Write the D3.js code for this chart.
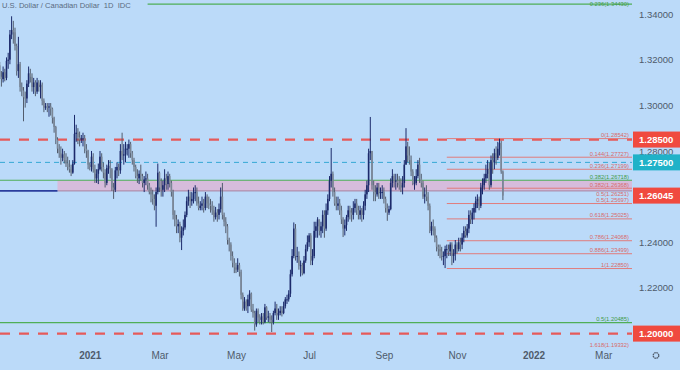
<!DOCTYPE html>
<html>
<head>
<meta charset="utf-8">
<script src="https://cdn.jsdelivr.net/npm/d3@7"></script>
<style>
  html, body { margin: 0; padding: 0; background: #bbdaf9; }
  svg { display: block; font-family: "Liberation Sans", Arial, sans-serif; }
</style>
</head>
<body>
<svg id="chart" width="680" height="370"></svg>
<script>
// USD/CAD daily candles, one bar per weekday from 19 Oct 2020
const startDate = "2020-10-19";
const firstOpen = 1.3185;

const closes = [
  1.3175,1.3125,1.3115,1.3145,1.3120, 1.3195,1.3200,1.3310,1.3330,1.3320,
  1.3260,1.3150,1.3180,1.3080,1.3065, 1.3035,1.3030,1.3095,1.3140,1.3125,
  1.3080,1.3100,1.3060,1.3100,1.3080, 1.3090,1.3020,1.2990,1.2995,1.2990,
  1.2995,1.2985,1.2945,1.2905,1.2850, 1.2810,1.2790,1.2770,1.2785,1.2760,
  1.2745,1.2730,1.2720,1.2705,1.2745, 1.2875,1.2880,1.2860,1.2850,1.2855,
  1.2855,1.2810,1.2800,1.2740,1.2730, 1.2775,1.2720,1.2680,1.2700,1.2720,
  1.2775,1.2730,1.2705,1.2660,1.2725, 1.2735,1.2720,1.2640,1.2630,1.2715,
  1.2730,1.2715,1.2800,1.2780,1.2785, 1.2810,1.2810,1.2830,1.2790,1.2760,
  1.2730,1.2690,1.2680,1.2700,1.2690, 1.2660,1.2675,1.2680,1.2650,1.2620,
  1.2610,1.2590,1.2560,1.2620,1.2705, 1.2640,1.2630,1.2650,1.2680,1.2655,
  1.2690,1.2660,1.2620,1.2520,1.2500, 1.2470,1.2480,1.2420,1.2450,1.2465,
  1.2520,1.2580,1.2600,1.2580,1.2590, 1.2615,1.2620,1.2570,1.2550,1.2560,
  1.2570,1.2550,1.2600,1.2570,1.2565, 1.2560,1.2540,1.2510,1.2530,1.2520,
  1.2545,1.2600,1.2520,1.2490,1.2470, 1.2410,1.2390,1.2340,1.2310,1.2290,
  1.2280,1.2300,1.2270,1.2170,1.2110, 1.2140,1.2120,1.2150,1.2175,1.2105,
  1.2090,1.2040,1.2100,1.2070,1.2060, 1.2075,1.2050,1.2115,1.2070,1.2075,
  1.2060,1.2050,1.2090,1.2110,1.2080, 1.2090,1.2100,1.2090,1.2120,1.2150,
  1.2150,1.2175,1.2260,1.2340,1.2460, 1.2340,1.2340,1.2300,1.2300,1.2265,
  1.2320,1.2370,1.2400,1.2430,1.2320, 1.2340,1.2450,1.2470,1.2500,1.2450,
  1.2470,1.2520,1.2460,1.2540,1.2590, 1.2670,1.2700,1.2620,1.2570,1.2560,
  1.2570,1.2540,1.2500,1.2460,1.2475, 1.2510,1.2540,1.2530,1.2520,1.2550,
  1.2570,1.2540,1.2520,1.2540,1.2520, 1.2560,1.2610,1.2650,1.2790,1.2800,
  1.2650,1.2620,1.2610,1.2640,1.2615, 1.2620,1.2620,1.2590,1.2550,1.2530,
  1.2545,1.2660,1.2690,1.2670,1.2670, 1.2660,1.2650,1.2640,1.2660,1.2740,
  1.2820,1.2780,1.2760,1.2710,1.2660, 1.2660,1.2690,1.2740,1.2680,1.2660,
  1.2600,1.2610,1.2600,1.2560,1.2450, 1.2470,1.2460,1.2420,1.2380,1.2370,
  1.2360,1.2340,1.2340,1.2370,1.2370, 1.2360,1.2390,1.2340,1.2350,1.2390,
  1.2370,1.2400,1.2390,1.2420,1.2450, 1.2430,1.2460,1.2520,1.2500,1.2530,
  1.2550,1.2580,1.2590,1.2560,1.2640, 1.2650,1.2680,1.2700,1.2720,1.2650,
  1.2760,1.2750,1.2790,1.2770,1.2810, 1.2835,1.2710,1.26045
];

const highs = [
  1.3195,1.3190,1.3150,1.3170,1.3160, 1.3210,1.3230,1.3330,1.3390,1.3370,
  1.3340,1.3270,1.3300,1.3190,1.3100, 1.3080,1.3060,1.3110,1.3170,1.3160,
  1.3140,1.3120,1.3110,1.3120,1.3110, 1.3110,1.3100,1.3030,1.3010,1.3010,
  1.3010,1.3010,1.2990,1.2950,1.2910, 1.2860,1.2830,1.2820,1.2810,1.2800,
  1.2790,1.2775,1.2760,1.2740,1.2760, 1.2958,1.2915,1.2900,1.2885,1.2870,
  1.2880,1.2870,1.2830,1.2805,1.2750, 1.2800,1.2790,1.2740,1.2720,1.2745,
  1.2800,1.2790,1.2750,1.2720,1.2740, 1.2760,1.2760,1.2725,1.2660,1.2730,
  1.2750,1.2745,1.2830,1.2880,1.2830, 1.2840,1.2830,1.2850,1.2840,1.2800,
  1.2770,1.2740,1.2720,1.2715,1.2740, 1.2700,1.2690,1.2710,1.2700,1.2660,
  1.2640,1.2630,1.2610,1.2640,1.2745, 1.2710,1.2680,1.2670,1.2720,1.2700,
  1.2710,1.2700,1.2670,1.2630,1.2540, 1.2520,1.2500,1.2490,1.2470,1.2500,
  1.2535,1.2600,1.2630,1.2620,1.2620, 1.2640,1.2650,1.2640,1.2600,1.2580,
  1.2600,1.2590,1.2620,1.2610,1.2600, 1.2590,1.2580,1.2560,1.2555,1.2545,
  1.2570,1.2640,1.2660,1.2530,1.2510, 1.2480,1.2420,1.2400,1.2360,1.2330,
  1.2310,1.2330,1.2310,1.2280,1.2180, 1.2160,1.2150,1.2170,1.2190,1.2180,
  1.2130,1.2100,1.2110,1.2110,1.2085, 1.2090,1.2090,1.2130,1.2120,1.2100,
  1.2090,1.2080,1.2100,1.2140,1.2130, 1.2110,1.2120,1.2120,1.2140,1.2160,
  1.2170,1.2190,1.2280,1.2370,1.2487, 1.2480,1.2380,1.2360,1.2320,1.2310,
  1.2340,1.2390,1.2430,1.2440,1.2440, 1.2370,1.2490,1.2490,1.2510,1.2500,
  1.2490,1.2540,1.2540,1.2570,1.2610, 1.2690,1.2813,1.2710,1.2640,1.2600,
  1.2600,1.2590,1.2560,1.2510,1.2500, 1.2520,1.2560,1.2560,1.2550,1.2580,
  1.2590,1.2590,1.2560,1.2560,1.2550, 1.2580,1.2630,1.2670,1.2810,1.2949,
  1.2800,1.2670,1.2650,1.2660,1.2660, 1.2640,1.2650,1.2640,1.2600,1.2570,
  1.2560,1.2680,1.2720,1.2700,1.2700, 1.2700,1.2690,1.2680,1.2690,1.2760,
  1.2900,1.2840,1.2820,1.2780,1.2720, 1.2690,1.2720,1.2760,1.2770,1.2700,
  1.2670,1.2640,1.2650,1.2620,1.2570, 1.2490,1.2500,1.2470,1.2430,1.2390,
  1.2390,1.2380,1.2360,1.2385,1.2390, 1.2390,1.2400,1.2400,1.2370,1.2410,
  1.2400,1.2420,1.2420,1.2440,1.2470, 1.2470,1.2480,1.2540,1.2540,1.2550,
  1.2570,1.2600,1.2610,1.2600,1.2660, 1.2680,1.2700,1.2740,1.2760,1.2750,
  1.2780,1.2790,1.2810,1.2820,1.2840, 1.2854,1.2845,1.2715
];

const lows = [
  1.3150,1.3115,1.3082,1.3100,1.3105, 1.3110,1.3160,1.3180,1.3290,1.3270,
  1.3240,1.3130,1.3120,1.3060,1.3040, 1.2930,1.2990,1.3010,1.3080,1.3100,
  1.3060,1.3050,1.3040,1.3050,1.3060, 1.3030,1.3000,1.2970,1.2980,1.2970,
  1.2950,1.2955,1.2920,1.2880,1.2830, 1.2790,1.2770,1.2740,1.2755,1.2745,
  1.2730,1.2715,1.2705,1.2690,1.2700, 1.2740,1.2840,1.2830,1.2820,1.2835,
  1.2820,1.2790,1.2770,1.2720,1.2715, 1.2710,1.2705,1.2660,1.2660,1.2655,
  1.2715,1.2710,1.2680,1.2640,1.2650, 1.2700,1.2680,1.2625,1.2590,1.2620,
  1.2680,1.2690,1.2700,1.2760,1.2740, 1.2750,1.2780,1.2770,1.2770,1.2740,
  1.2710,1.2680,1.2660,1.2655,1.2670, 1.2640,1.2620,1.2650,1.2630,1.2610,
  1.2575,1.2565,1.2540,1.2468,1.2610, 1.2620,1.2600,1.2600,1.2620,1.2630,
  1.2630,1.2640,1.2600,1.2500,1.2470, 1.2440,1.2440,1.2400,1.2366,1.2430,
  1.2455,1.2510,1.2560,1.2550,1.2560, 1.2570,1.2580,1.2560,1.2540,1.2540,
  1.2540,1.2530,1.2540,1.2550,1.2545, 1.2530,1.2520,1.2490,1.2500,1.2490,
  1.2500,1.2530,1.2500,1.2470,1.2440, 1.2390,1.2360,1.2320,1.2290,1.2265,
  1.2265,1.2270,1.2250,1.2150,1.2100, 1.2100,1.2100,1.2090,1.2120,1.2095,
  1.2070,1.2013,1.2030,1.2050,1.2040, 1.2040,1.2040,1.2045,1.2060,1.2050,
  1.2045,1.2007,1.2040,1.2080,1.2060, 1.2060,1.2080,1.2075,1.2085,1.2110,
  1.2130,1.2140,1.2160,1.2250,1.2330, 1.2320,1.2310,1.2280,1.2250,1.2255,
  1.2260,1.2310,1.2360,1.2380,1.2300, 1.2300,1.2330,1.2420,1.2420,1.2430,
  1.2420,1.2440,1.2420,1.2450,1.2520, 1.2580,1.2640,1.2600,1.2560,1.2540,
  1.2540,1.2520,1.2480,1.2423,1.2430, 1.2450,1.2490,1.2500,1.2490,1.2500,
  1.2530,1.2520,1.2500,1.2500,1.2490, 1.2500,1.2540,1.2590,1.2620,1.2760,
  1.2630,1.2580,1.2580,1.2600,1.2590, 1.2590,1.2590,1.2570,1.2530,1.2494,
  1.2520,1.2540,1.2640,1.2640,1.2630, 1.2640,1.2630,1.2620,1.2610,1.2640,
  1.2740,1.2750,1.2740,1.2690,1.2650, 1.2630,1.2650,1.2680,1.2660,1.2640,
  1.2590,1.2570,1.2580,1.2540,1.2440, 1.2430,1.2430,1.2400,1.2360,1.2340,
  1.2330,1.2320,1.2300,1.2287,1.2330, 1.2340,1.2340,1.2300,1.2310,1.2320,
  1.2350,1.2360,1.2360,1.2370,1.2400, 1.2420,1.2420,1.2440,1.2480,1.2480,
  1.2500,1.2530,1.2550,1.2540,1.2550, 1.2610,1.2630,1.2660,1.2680,1.2630,
  1.2640,1.2700,1.2720,1.2740,1.2760, 1.2780,1.2700,1.2585
];

// axes
const priceTicks = [1.22, 1.24, 1.26, 1.28, 1.30, 1.32, 1.34];
const timeLabels = ["2021", "Mar", "May", "Jul", "Sep", "Nov", "2022", "Mar"];
const timeDates = ["2021-01-01", "2021-03-01", "2021-05-03", "2021-07-01",
                   "2021-09-01", "2021-11-01", "2022-01-03", "2022-03-01"];

// drawn levels
const dashedRed = [1.285, 1.20];
const dashedCyan = [1.275];
const priceBoxes = [1.285, 1.275, 1.26045, 1.20];
const boxColors = ["#f04a3f", "#1fb2c8", "#f04a3f", "#f04a3f"];

// short-term fibonacci (Oct low to Dec high)
const fibRatios = ["0", "0.144", "0.236", "0.382", "0.5", "0.618", "0.786", "0.886", "1", "1.618"];
const fibPrices = [1.28542, 1.27727, 1.27199, 1.26368, 1.25697, 1.25025, 1.24068, 1.23499, 1.22850, 1.19332];
const fibStart = "2021-10-22";

// long-term fibonacci levels (green)
const longRatios = ["0.236", "0.382", "0.5"];
const longPrices = [1.34430, 1.26718, 1.20485];
const longStarts = ["2021-02-18", "2020-10-19", "2020-10-19"];

// support zone
const zoneTop = 1.26718, zoneBottom = 1.26251, zoneLabel = "0.5(1.26251)";
const zoneStart = "2020-12-07";

const title = "U.S. Dollar / Canadian Dollar  1D  IDC";

// ---------- calendar of weekday bars ----------
const barDates = [];
for (let d = new Date(startDate + "T00:00:00"); barDates.length < 380; d.setDate(d.getDate() + 1)) {
  if (d.getDay() !== 0 && d.getDay() !== 6) barDates.push(new Date(d));
}
const idxOf = s => barDates.findIndex(b => b >= new Date(s + "T00:00:00"));

const bars = closes.map((c, i) => ({
  i, c,
  o: i === 0 ? firstOpen : closes[i - 1],
  h: highs[i], l: lows[i]
}));

const W = 680, H = 370, plotRight = 632;
const svg = d3.select("#chart");
const x = d3.scaleLinear().domain([0, 372]).range([-2, 630.4]);
const y = d3.scaleLinear().domain([1.20, 1.34]).range([333.6, 14]);

svg.append("rect").attr("width", W).attr("height", H).attr("fill", "#bbdaf9");

svg.append("clipPath").attr("id", "plot")
  .append("rect").attr("x", 0).attr("y", 0).attr("width", plotRight).attr("height", 345);
const plot = svg.append("g").attr("clip-path", "url(#plot)");

// ---------- zone ----------
plot.append("rect")
  .attr("x", x(idxOf(zoneStart)))
  .attr("y", y(zoneTop))
  .attr("width", plotRight - x(idxOf(zoneStart)))
  .attr("height", y(zoneBottom) - y(zoneTop))
  .attr("fill", "#deb3d3").attr("opacity", 0.78);
plot.append("line")
  .attr("x1", x(idxOf(zoneStart))).attr("x2", plotRight)
  .attr("y1", y(zoneBottom)).attr("y2", y(zoneBottom))
  .attr("stroke", "#a9819f").attr("stroke-width", 1);
plot.append("line")
  .attr("x1", 0).attr("x2", x(idxOf(zoneStart)))
  .attr("y1", y(zoneBottom)).attr("y2", y(zoneBottom))
  .attr("stroke", "#2a3d9c").attr("stroke-width", 1.6);

// ---------- long-term green levels ----------
plot.selectAll("line.long")
  .data(longPrices)
  .enter().append("line")
  .attr("class", "long")
  .attr("x1", (d, i) => Math.max(0, x(idxOf(longStarts[i])))).attr("x2", plotRight)
  .attr("y1", d => y(d)).attr("y2", d => y(d))
  .attr("stroke", "#4fae57").attr("stroke-width", 1.2);

// ---------- dashed levels ----------
plot.selectAll("line.cyan")
  .data(dashedCyan)
  .enter().append("line")
  .attr("x1", 0).attr("x2", plotRight)
  .attr("y1", d => y(d)).attr("y2", d => y(d))
  .attr("stroke", "#35a8d4").attr("stroke-width", 1)
  .attr("stroke-dasharray", "5,4");

plot.selectAll("line.red")
  .data(dashedRed)
  .enter().append("line")
  .attr("x1", 0).attr("x2", plotRight)
  .attr("y1", d => y(d)).attr("y2", d => y(d))
  .attr("stroke", "#e65a5a").attr("stroke-width", 2.2)
  .attr("stroke-dasharray", "10,9");

// ---------- fibonacci lines ----------
const fibX = x(idxOf(fibStart));
plot.selectAll("line.fib")
  .data(fibPrices)
  .enter().append("line")
  .attr("x1", fibX).attr("x2", plotRight)
  .attr("y1", d => y(d)).attr("y2", d => y(d))
  .attr("stroke", "#e07c7c").attr("stroke-width", 1);

// ---------- candles ----------
const upColor = "#1c2a6b", downColor = "#7b8797", downWick = "#525c6d";
const candle = plot.append("g").selectAll("g")
  .data(bars)
  .enter().append("g");

candle.append("line")
  .attr("x1", d => x(d.i)).attr("x2", d => x(d.i))
  .attr("y1", d => y(Math.max(d.h, d.o, d.c)))
  .attr("y2", d => y(Math.min(d.l, d.o, d.c)))
  .attr("stroke", d => d.c >= d.o ? upColor : downWick)
  .attr("stroke-width", 1);

candle.append("rect")
  .attr("x", d => x(d.i) - 0.8)
  .attr("width", 1.6)
  .attr("y", d => y(Math.max(d.o, d.c)))
  .attr("height", d => Math.max(1, Math.abs(y(d.o) - y(d.c))))
  .attr("fill", d => d.c >= d.o ? upColor : downColor);

// ---------- level labels ----------
const fibLabelX = plotRight - 3;
svg.selectAll("text.fib")
  .data(fibPrices)
  .enter().append("text")
  .attr("x", fibLabelX).attr("y", d => y(d) - 1.5)
  .attr("text-anchor", "end")
  .attr("font-size", 5.8)
  .attr("fill", "#d96a6a")
  .text((d, i) => `${fibRatios[i]}(${d.toFixed(5)})`);

svg.append("text")
  .attr("x", fibLabelX).attr("y", y(zoneBottom) + 5.5)
  .attr("text-anchor", "end")
  .attr("font-size", 5.8)
  .attr("fill", "#d96a6a")
  .text(zoneLabel);

svg.selectAll("text.long")
  .data(longPrices)
  .enter().append("text")
  .attr("x", fibLabelX)
  .attr("y", d => Math.max(5.5, y(d) - 1.5))
  .attr("text-anchor", "end")
  .attr("font-size", 5.8)
  .attr("fill", "#3f9a48")
  .text((d, i) => `${longRatios[i]}(${d.toFixed(5)})`);

// ---------- price axis ----------
const yAxis = svg.append("g")
  .attr("transform", "translate(639,0)")
  .call(d3.axisRight(y).tickValues(priceTicks).tickSize(0).tickPadding(0).tickFormat(d3.format(".5f")));
yAxis.select(".domain").remove();
yAxis.selectAll("text")
  .attr("font-family", "Liberation Sans, Arial, sans-serif")
  .attr("font-size", 9.5)
  .attr("fill", "#4f5b6b");

const boxes = svg.selectAll("g.box")
  .data(priceBoxes)
  .enter().append("g")
  .attr("transform", d => `translate(633,${y(d)})`);
boxes.append("rect")
  .attr("x", 0).attr("y", -8).attr("width", 47).attr("height", 16)
  .attr("fill", (d, i) => boxColors[i]);
boxes.append("text")
  .attr("x", 6).attr("dy", "0.35em")
  .attr("font-size", 9.5).attr("font-weight", "bold")
  .attr("fill", "#ffffff")
  .text(d => d3.format(".5f")(d));

// ---------- time axis ----------
const xAxis = svg.append("g")
  .attr("transform", "translate(0,352)")
  .call(d3.axisBottom(x)
    .tickValues(timeDates.map(idxOf))
    .tickSize(0).tickPadding(0)
    .tickFormat((d, i) => timeLabels[i]));
xAxis.select(".domain").remove();
xAxis.selectAll("text")
  .attr("font-family", "Liberation Sans, Arial, sans-serif")
  .attr("font-size", 10)
  .attr("fill", "#4f5b6b")
  .attr("font-weight", (d, i) => /^\d{4}$/.test(timeLabels[i]) ? "bold" : "normal");

// settings gear
svg.append("circle")
  .attr("cx", 656).attr("cy", 355.5).attr("r", 2.8)
  .attr("fill", "none").attr("stroke", "#4f5b6b").attr("stroke-width", 1.3)
  .attr("stroke-dasharray", "1.6,0.6");

// ---------- title ----------
svg.append("text")
  .attr("x", 2).attr("y", 7.5)
  .attr("font-size", 7.6)
  .attr("fill", "#5a6a80")
  .attr("xml:space", "preserve")
  .style("white-space", "pre")
  .text(title);
</script>
</body>
</html>
